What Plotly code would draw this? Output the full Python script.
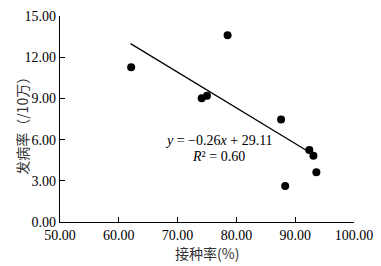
import plotly.graph_objects as go

vacc_rate = [62.1, 74.1, 75.0, 78.5, 87.6, 88.3, 92.4, 93.1, 93.6]
incidence = [11.27, 9.01, 9.2, 13.6, 7.46, 2.62, 5.24, 4.83, 3.62]
slope, intercept = -0.26, 29.11
fit_x = [62.0, 92.5]
fit_y = [slope * v + intercept for v in fit_x]
x_ticks = [50, 60, 70, 80, 90, 100]
y_ticks = [0, 3, 6, 9, 12, 15]

fig = go.Figure()
fig.add_trace(go.Scatter(x=fit_x, y=fit_y, mode="lines",
                         line=dict(color="black", width=1.3), showlegend=False))
fig.add_trace(go.Scatter(x=vacc_rate, y=incidence, mode="markers",
                         marker=dict(color="black", size=8), showlegend=False))

font_serif = "Liberation Serif, Times New Roman, serif"
cjk = "Noto Sans CJK SC, " + font_serif
fig.add_annotation(x=77.0, y=5.95, xref="x", yref="y", showarrow=False,
                   text="<i>y</i> = −0.26<i>x</i> + 29.11",
                   font=dict(family=font_serif, size=14, color="black"))
fig.add_annotation(x=77.0, y=4.78, xref="x", yref="y", showarrow=False,
                   text="<i>R</i>² = 0.60",
                   font=dict(family=font_serif, size=14, color="black"))
fig.add_annotation(x=0.499, y=-0.15, xref="paper", yref="paper", showarrow=False,
                   xanchor="center", yanchor="middle", text="接种率(%)",
                   font=dict(family=cjk, size=14, color="#333"))
fig.add_annotation(x=-0.13, y=0.485, xref="paper", yref="paper", showarrow=False,
                   xanchor="center", yanchor="middle", textangle=-90,
                   text="发病率（/10万）",
                   font=dict(family=cjk, size=14, color="#333"))

fig.update_xaxes(range=[50, 100], tickvals=x_ticks,
                 ticktext=[f"{v:.2f}" for v in x_ticks],
                 showline=True, linecolor="black", linewidth=1.3,
                 ticks="inside", ticklen=5, tickcolor="black",
                 showgrid=False, zeroline=False, automargin=False,
                 tickfont=dict(family=font_serif, size=14, color="black"))
fig.update_yaxes(range=[0, 15], tickvals=y_ticks,
                 ticktext=[f"{v:.2f}" for v in y_ticks],
                 showline=True, linecolor="black", linewidth=1.3,
                 ticks="inside", ticklen=5, tickcolor="black",
                 showgrid=False, zeroline=False, automargin=False,
                 tickfont=dict(family=font_serif, size=14, color="black"))

fig.update_layout(width=381, height=266,
                  margin=dict(l=60, r=27, t=16, b=44),
                  plot_bgcolor="white", paper_bgcolor="white")
fig.write_html("out.html", config={"displayModeBar": False},
               post_script="document.body.style.margin='0';document.body.style.overflow='hidden';")
